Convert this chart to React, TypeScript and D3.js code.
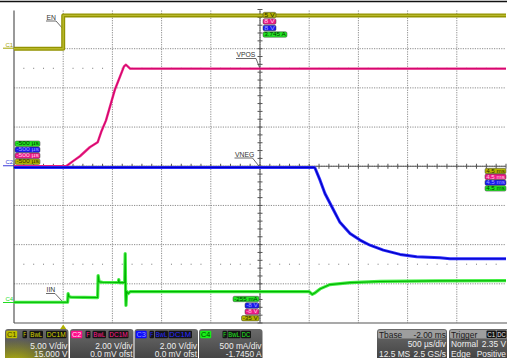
import React from "react";
import * as d3 from "d3";

// ---- Acquisition settings ----
const timeDomainMs = [-0.5, 4.5]; // 500 µs/div, 10 divisions, trigger at 0
const channelNames = ["C1", "C2", "C3", "C4"];
const channelPerDiv = [5, 2, 2, 0.5];
const channelOffset = [15, 0, 0, -1.745];
const channelColors = ["#a3a300", "#e8147c", "#1414ee", "#22dd22"];
const channelLabels = ["EN", "VPOS", "VNEG", "IIN"];

// ---- Traces (time in ms, value in V or A) ----
const enTimes = [-0.5, 0, 0, 4.5];
const enValues = [0, 0, 4.25, 4.25];

const vposTimes = [-0.5, 0.03, 0.1, 0.17, 0.27, 0.35, 0.39, 0.435, 0.526, 0.618, 0.638, 0.68, 1.5, 2.5, 3.5, 4.5];
const vposValues = [0, 0, 0.26, 0.51, 0.97, 1.22, 1.8, 2.34, 3.92, 5.1, 5.18, 4.98, 4.98, 4.98, 4.98, 4.98];

const vnegTimes = [-0.5, 1.0, 2.0, 2.55, 2.56, 2.61, 2.66, 2.73, 2.81, 2.915, 3.016, 3.118, 3.253, 3.423, 3.592, 3.829, 3.93, 4.5];
const vnegValues = [-0.06, -0.06, -0.06, -0.06, -0.1, -0.71, -1.39, -2.07, -2.84, -3.43, -3.77, -4.03, -4.28, -4.5, -4.62, -4.67, -4.72, -4.72];

const iinTimes = [-0.5, 0.045, 0.05, 0.06, 0.08, 0.35, 0.355, 0.365, 0.4, 0.56, 0.565, 0.57, 0.625, 0.63, 0.635, 0.638, 0.645, 0.66, 0.68, 1.5, 2.5, 2.53, 2.56, 2.61, 2.71, 2.92, 3.22, 3.8, 4.5];
const iinValues = [0.01, 0.01, 0.12, 0.08, 0.075, 0.07, 0.35, 0.27, 0.265, 0.262, 0.3, 0.26, 0.26, 0.63, 0.1, -0.03, 0.15, 0.12, 0.145, 0.145, 0.145, 0.11, 0.13, 0.18, 0.235, 0.26, 0.275, 0.282, 0.285];

// ---- Readout tags ----
const topTags = ["5 V", "8 V", "8 V", "3.745 A"];
const bottomTags = ["-35 V", "-8 V", "-8 V", "-255 mA"];
const leftTagText = "-500 µs";
const rightTagText = "4.5 ms";

// ---- Status panels ----
const channelCoupling = [["F", "BwL", "DC1M"], ["F", "BwL", "DC1M"], ["F", "BwL", "DC1M"], ["F", "BwL", "DC"]];
const channelScaleText = ["5.00 V/div", "2.00 V/div", "2.00 V/div", "500 mA/div"];
const channelOffsetText = ["15.000 V", "0.0 mV ofst", "0.0 mV ofst", "-1.7450 A"];
const tbaseRows = [["Tbase", "-2.00 ms"], ["", "500 µs/div"], ["12.5 MS", "2.5 GS/s"]];
const triggerRows = [["Trigger", ""], ["Normal", "2.35 V"], ["Edge", "Positive"]];

const W = 507;
const H = 358;
const left = 14;
const right = 506;
const top = 9.5;
const bottom = 323;
const divY = (bottom - top) / 8;
const divX = (right - left) / 10;
const midY = top + 4 * divY;
const midX = left + 5 * divX;

const x = d3.scaleLinear().domain(timeDomainMs).range([left, right]);
const yScales = channelPerDiv.map((pd, i) =>
  d3.scaleLinear().domain([-channelOffset[i] - 4 * pd, -channelOffset[i] + 4 * pd]).range([bottom, top])
);

const series = [
  { t: enTimes, v: enValues },
  { t: vposTimes, v: vposValues },
  { t: vnegTimes, v: vnegValues },
  { t: iinTimes, v: iinValues },
];

const traceStyle = [
  { outer: "#939300", ow: 4, inner: "#b9b92c", iw: 1.4 },
  { outer: "#ec2a86", ow: 2.4, inner: "#d0006c", iw: 1 },
  { outer: "#2e2eff", ow: 3, inner: "#0000c4", iw: 1.2 },
  { outer: "#44ee44", ow: 3.2, inner: "#00b400", iw: 1.1 },
];

const tagFill = ["#b4b400", "#ee1a86", "#1818f0", "#22e622"];
const tagText = ["#2a2a00", "#ffd0e8", "#a0a0ff", "#003300"];
const font = "Liberation Sans, Arial, sans-serif";

function Tag({ x0, y0, w, h, i, text }: any) {
  return (
    <g>
      <rect x={x0} y={y0} width={w} height={h} rx={1.5} fill={tagFill[i]} stroke="#3a3a3a" strokeWidth={0.5} />
      <text
        x={x0 + 1.2}
        y={y0 + h - 1}
        fontSize={5.4}
        fontFamily={font}
        fill={tagText[i]}
        textLength={w - 2.4}
        lengthAdjust="spacingAndGlyphs"
      >
        {text}
      </text>
    </g>
  );
}

function Chip({ x0, y0, w, text, bg, fg }: any) {
  return (
    <g>
      <rect x={x0} y={y0} width={w} height={7.5} rx={1} fill={bg} />
      <text
        x={x0 + 0.8}
        y={y0 + 6.2}
        fontSize={7}
        fontFamily={font}
        fill={fg}
        textLength={w - 1.6}
        lengthAdjust="spacingAndGlyphs"
      >
        {text}
      </text>
    </g>
  );
}

const chipFg = ["#d8d800", "#ff1a8c", "#2a2aff", "#22ee22"];
const chanChipBg = ["#c0c000", "#ff0a8a", "#0a0aff", "#18f018"];
const chanChipFg = ["#404000", "#ffe0f0", "#9090ff", "#004400"];

export default function App() {
  const vLines = d3.range(1, 10).map((k) => left + k * divX);
  const hLines = d3.range(1, 8).map((k) => top + k * divY);
  const xTicks = d3.range(0, 51).map((k) => left + (k * divX) / 5);
  const yTicks = d3.range(0, 41).map((k) => top + (k * divY) / 5);
  const dotRows = [top + 1.5 * divY, top + 6.5 * divY];

  const lineGen = (i: number) =>
    d3
      .line<number>()
      .x((_, k) => x(series[i].t[k]))
      .y((v) => yScales[i](v))(series[i].v) as string;

  const panelX = [5, 70, 134.5, 199];
  const panelW = 63.5;
  const chipOffsets = [
    [[17.5, 4.5], [24.5, 13.5], [41, 20.5]],
    [[15.5, 5], [22.5, 13.5], [38.5, 20]],
    [[15, 4.5], [20.5, 13], [34, 23.5]],
    [[23.5, 4.5], [28.5, 13], [42, 10]],
  ];

  // Annotation anchor points on the traces
  const anchors = [
    [x(0), yScales[0](2.5)],
    [x(2.0), yScales[1](4.98)],
    [x(2.0), yScales[2](-0.06)],
    [x(0), yScales[3](0.01)],
  ];
  const labelPos = [
    [46.5, 19.5, 9.5],
    [236.5, 57, 19.5],
    [235, 156.5, 17.5],
    [46.5, 292, 8.5],
  ];

  return (
    <svg width={W} height={H} style={{ position: "absolute", left: 0, top: 0, background: "#fff" }}>
      <defs>
        <linearGradient id="panelBg" x1="0" y1="0" x2="0" y2="1">
          <stop offset="0" stopColor="#6a6a6a" />
          <stop offset="1" stopColor="#3e3e3e" />
        </linearGradient>
        <radialGradient id="selGlow" cx="0.15" cy="1.05" r="0.75">
          <stop offset="0" stopColor="#c8c800" stopOpacity={0.95} />
          <stop offset="1" stopColor="#c8c800" stopOpacity={0} />
        </radialGradient>
      </defs>
      <rect x={0} y={0} width={W} height={H} fill="#fff" />
      <line x1={0} x2={W} y1={1.5} y2={1.5} stroke="#111" strokeWidth={1.5} />

      {/* grid */}
      {vLines.map((vx, k) => (
        <line key={"v" + k} x1={vx} x2={vx} y1={top + 1} y2={bottom} stroke="#8c8c8c" strokeWidth={1} strokeDasharray="1.2 1.2" />
      ))}
      {hLines.map((hy, k) => (
        <line key={"h" + k} x1={left} x2={right} y1={hy} y2={hy} stroke="#8c8c8c" strokeWidth={1} strokeDasharray="1.2 1.2" />
      ))}
      {dotRows.map((ry, r) =>
        xTicks.map((tx, k) =>
          k % 5 === 0 ? null : <rect key={"d" + r + "-" + k} x={tx - 0.5} y={ry - 0.5} width={1} height={1} fill="#777" />
        )
      )}
      {/* center axes with ticks */}
      <line x1={left} x2={right} y1={midY} y2={midY} stroke="#555" strokeWidth={1} />
      <line x1={midX} x2={midX} y1={top + 1} y2={bottom} stroke="#555" strokeWidth={1} />
      {xTicks.map((tx, k) => (
        <line key={"xt" + k} x1={tx} x2={tx} y1={midY - 2.5} y2={midY + 2.5} stroke="#555" strokeWidth={1} />
      ))}
      {yTicks.map((ty, k) => (
        <line key={"yt" + k} x1={midX - 2.5} x2={midX + 2.5} y1={ty} y2={ty} stroke="#555" strokeWidth={1} />
      ))}
      <line x1={left} x2={left} y1={top + 1} y2={bottom} stroke="#555" strokeWidth={1.2} />
      <line x1={left} x2={W} y1={bottom} y2={bottom} stroke="#555" strokeWidth={1.2} />

      {/* annotations */}
      {channelLabels.map((lab, i) => {
        const [lx, ly, uw] = labelPos[i];
        const [ax, ay] = anchors[i];
        return (
          <g key={"lab" + i}>
            <text x={lx} y={ly} fontSize={6.8} fontFamily={font} fill="#333">
              {lab}
            </text>
            <line x1={lx - 0.5} x2={lx + uw} y1={ly + 1.5} y2={ly + 1.5} stroke="#444" strokeWidth={0.8} />
            <line x1={lx + uw} x2={ax} y1={ly + 1.5} y2={ay} stroke="#444" strokeWidth={0.8} />
          </g>
        );
      })}

      {/* traces */}
      {series.map((_, i) => (
        <g key={"tr" + i}>
          <path d={lineGen(i)} fill="none" stroke={traceStyle[i].outer} strokeWidth={traceStyle[i].ow} strokeLinejoin="round" />
          <path d={lineGen(i)} fill="none" stroke={traceStyle[i].inner} strokeWidth={traceStyle[i].iw} strokeLinejoin="round" />
        </g>
      ))}

      {/* ground markers */}
      {[0, 1, 3].map((i) => {
        const gy = yScales[i](0);
        const col = i === 1 ? "#3a3ad8" : channelColors[i];
        return (
          <g key={"gm" + i}>
            <text x={5.5} y={gy - 2} fontSize={6} fontFamily={font} fill={col}>
              {channelNames[i]}
            </text>
            <line x1={3} x2={left} y1={gy - 0.5} y2={gy - 0.5} stroke={col} strokeWidth={1} />
          </g>
        );
      })}

      {/* readout tags */}
      {topTags.map((t, i) => (
        <Tag key={"tt" + i} x0={263} y0={12.3 + i * 6.5} w={i === 3 ? 24 : 13} h={5.4} i={i} text={t} />
      ))}
      {bottomTags.map((t, i) => {
        const w = i === 3 ? 26 : i === 0 ? 17.5 : 14;
        const y0 = [315.5, 309, 302.8, 296.3][i];
        return <Tag key={"bt" + i} x0={259 - w} y0={y0} w={w} h={5.4} i={i} text={t} />;
      })}
      {[3, 2, 1, 0].map((i, k) => (
        <Tag key={"lt" + i} x0={15} y0={141 + k * 6} w={25} h={5.4} i={i} text={leftTagText} />
      ))}
      {[0, 1, 2, 3].map((i, k) => (
        <Tag key={"rt" + i} x0={485} y0={168.3 + k * 5.8} w={21} h={5.4} i={i} text={rightTagText} />
      ))}

      {/* trigger position marker */}
      <path d={`M${x(0)},${bottom + 1.5} l3,4.5 l-6,0 Z`} fill="#b0b000" />

      {/* channel panels */}
      {channelNames.map((cn, i) => {
        const px = panelX[i];
        return (
          <g key={"p" + i}>
            <rect x={px} y={329} width={panelW} height={34} rx={3} fill="url(#panelBg)" />
            {i === 0 && <rect x={px} y={329} width={panelW} height={34} rx={3} fill="url(#selGlow)" />}
            <Chip x0={px + 1.2} y0={330.8} w={11} text={cn} bg={chanChipBg[i]} fg={chanChipFg[i]} />
            {channelCoupling[i].map((c, k) => (
              <Chip key={k} x0={px + chipOffsets[i][k][0]} y0={330.8} w={chipOffsets[i][k][1]} text={c} bg="#141414" fg={chipFg[i]} />
            ))}
            <text x={px + panelW - 1} y={348.5} fontSize={8.4} fontFamily={font} fill="#eeeeee" textAnchor="end">
              {channelScaleText[i]}
            </text>
            <text x={px + panelW - 1} y={357.3} fontSize={8.4} fontFamily={font} fill="#eeeeee" textAnchor="end">
              {channelOffsetText[i]}
            </text>
          </g>
        );
      })}

      {/* timebase panel */}
      <g>
        <rect x={377} y={329} width={70} height={34} rx={3} fill="url(#panelBg)" />
        <rect x={378} y={330} width={68} height={8.6} rx={1.5} fill="#9e9e9e" />
        {tbaseRows.map((row, r) => (
          <g key={"tb" + r}>
            <text x={379} y={337.6 + r * 9.6} fontSize={8.4} fontFamily={font} fill={r === 0 ? "#1a1a1a" : "#eeeeee"}>
              {row[0]}
            </text>
            <text x={446} y={337.6 + r * 9.6} fontSize={8.4} fontFamily={font} fill={r === 0 ? "#1a1a1a" : "#eeeeee"} textAnchor="end">
              {row[1]}
            </text>
          </g>
        ))}
      </g>

      {/* trigger panel */}
      <g>
        <rect x={449} y={329} width={64} height={34} rx={3} fill="url(#panelBg)" />
        <rect x={450} y={330} width={62} height={8.6} rx={1.5} fill="#9e9e9e" />
        <Chip x0={486.5} y0={330.6} w={9.5} text="C1" bg="#141414" fg="#e8e8e8" />
        <Chip x0={496.5} y0={330.6} w={10} text="DC" bg="#141414" fg="#e8e8e8" />
        {triggerRows.map((row, r) => (
          <g key={"tg" + r}>
            <text x={451} y={337.6 + r * 9.6} fontSize={8.4} fontFamily={font} fill={r === 0 ? "#1a1a1a" : "#eeeeee"}>
              {row[0]}
            </text>
            {row[1] && (
              <text x={506} y={337.6 + r * 9.6} fontSize={8.4} fontFamily={font} fill="#eeeeee" textAnchor="end">
                {row[1]}
              </text>
            )}
          </g>
        ))}
      </g>
    </svg>
  );
}
